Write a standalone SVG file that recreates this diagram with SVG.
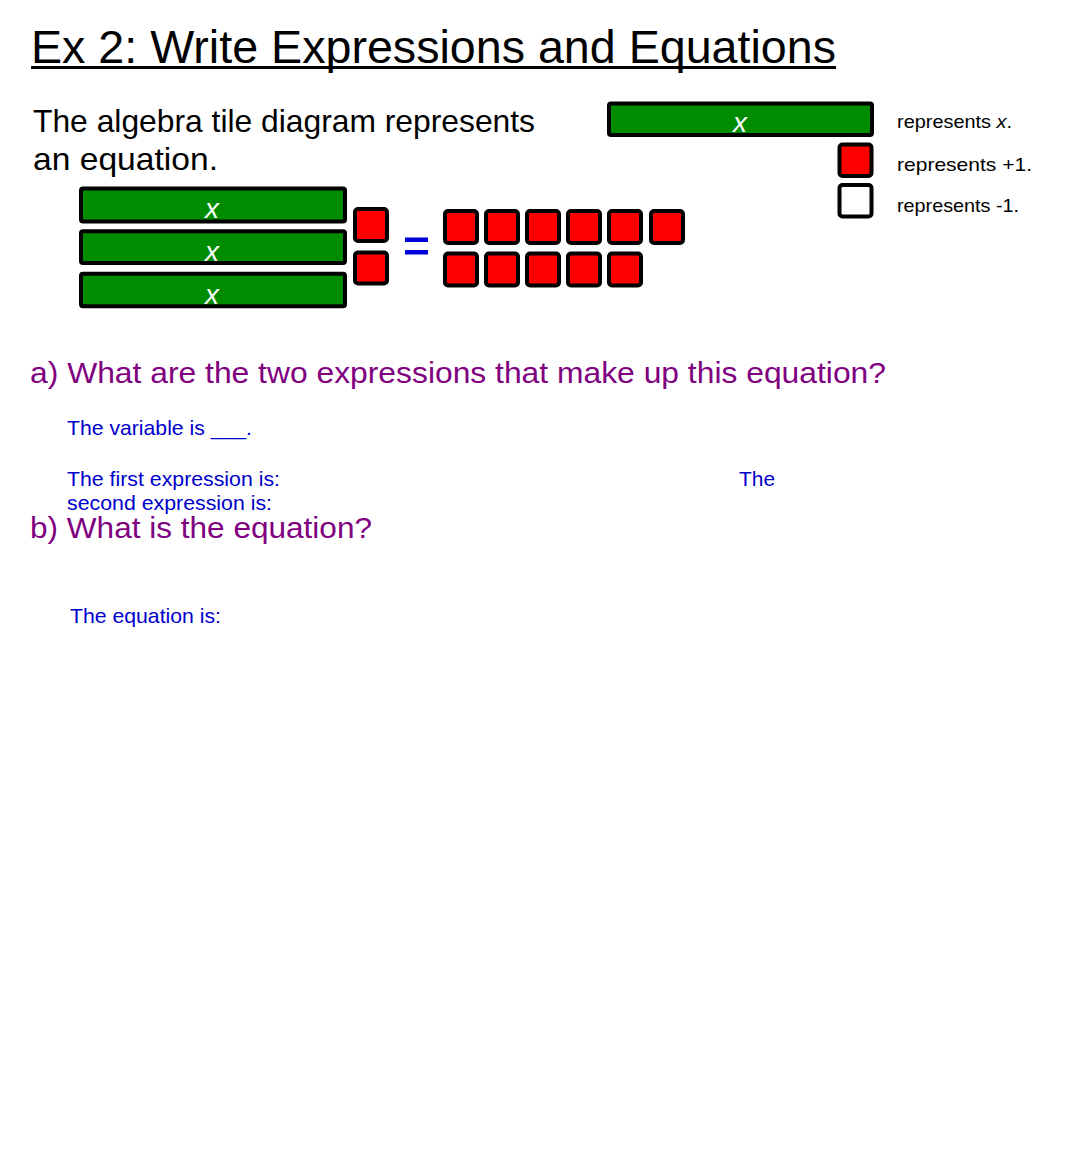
<svg xmlns="http://www.w3.org/2000/svg" width="1066" height="1149" viewBox="0 0 1066 1149">
<style>
text{font-family:"Liberation Sans",Arial,sans-serif}
.bar{fill:#008c00;stroke:#000;stroke-width:4}
.pos{fill:#ff0000;stroke:#000;stroke-width:4}
.neg{fill:#ffffff;stroke:#000;stroke-width:4}
.xl{fill:#fff;font-style:italic;font-size:28px;text-anchor:middle}
.leg{fill:#000;font-size:19px}
.q{fill:#800080;font-size:30px}
.b{fill:#0000cc;font-size:21px}
</style>
<rect width="1066" height="1149" fill="#fff"/>
<g id="title">
<text x="31" y="63" font-size="46" fill="#000" textLength="805" lengthAdjust="spacingAndGlyphs">Ex 2: Write Expressions and Equations</text>
<rect x="31" y="66" width="805" height="3" fill="#000"/>
</g>
<g id="intro">
<text x="33" y="132" font-size="32" fill="#000" textLength="502" lengthAdjust="spacingAndGlyphs">The algebra tile diagram represents</text>
<text x="33" y="170" font-size="32" fill="#000" textLength="185" lengthAdjust="spacingAndGlyphs">an equation.</text>
</g>
<g id="legend-x">
<rect class="bar" x="609" y="103.5" width="263" height="31.5" rx="2"/>
<text class="xl" x="740" y="132">x</text>
<text class="leg" x="897" y="128" textLength="115" lengthAdjust="spacingAndGlyphs">represents <tspan font-style="italic">x</tspan>.</text>
</g>
<g id="legend-pos">
<rect class="pos" x="839.5" y="144.5" width="32" height="31.5" rx="3"/>
<text class="leg" x="897" y="171" textLength="135" lengthAdjust="spacingAndGlyphs">represents +1.</text>
</g>
<g id="legend-neg">
<rect class="neg" x="839.5" y="185" width="32" height="31.5" rx="3"/>
<text class="leg" x="897" y="212" textLength="122" lengthAdjust="spacingAndGlyphs">represents -1.</text>
</g>
<g id="left-side">
<g id="x1"><rect class="bar" x="81" y="188.5" width="264" height="33" rx="2"/><text class="xl" x="212" y="218">x</text></g>
<g id="x2"><rect class="bar" x="81" y="231.3" width="264" height="31.7" rx="2"/><text class="xl" x="212" y="261">x</text></g>
<g id="x3"><rect class="bar" x="81" y="273.7" width="264" height="32.6" rx="2"/><text class="xl" x="212" y="304">x</text></g>
<g id="u1"><rect class="pos" x="355" y="209" width="32" height="32" rx="3"/></g>
<g id="u2"><rect class="pos" x="355" y="252.5" width="32" height="31" rx="3"/></g>
</g>
<g id="equals">
<rect x="405" y="237.5" width="23" height="4.5" fill="#0000dd"/>
<rect x="405" y="250" width="23" height="4.5" fill="#0000dd"/>
</g>
<g id="right-side">
<rect class="pos" x="445" y="211" width="32" height="32" rx="3"/>
<rect class="pos" x="486" y="211" width="32" height="32" rx="3"/>
<rect class="pos" x="527" y="211" width="32" height="32" rx="3"/>
<rect class="pos" x="568" y="211" width="32" height="32" rx="3"/>
<rect class="pos" x="609" y="211" width="32" height="32" rx="3"/>
<rect class="pos" x="651" y="211" width="32" height="32" rx="3"/>
<rect class="pos" x="445" y="253.5" width="32" height="32" rx="3"/>
<rect class="pos" x="486" y="253.5" width="32" height="32" rx="3"/>
<rect class="pos" x="527" y="253.5" width="32" height="32" rx="3"/>
<rect class="pos" x="568" y="253.5" width="32" height="32" rx="3"/>
<rect class="pos" x="609" y="253.5" width="32" height="32" rx="3"/>
</g>
<g id="question-a">
<text class="q" x="30" y="383" textLength="856" lengthAdjust="spacingAndGlyphs">a) What are the two expressions  that make up this equation?</text>
<text class="b" x="67" y="435" textLength="185" lengthAdjust="spacingAndGlyphs">The variable is ___.</text>
<text class="b" x="67" y="486" textLength="213" lengthAdjust="spacingAndGlyphs">The first expression is:</text>
<text class="b" x="739" y="486" textLength="36" lengthAdjust="spacingAndGlyphs">The</text>
<text class="b" x="67" y="510" textLength="205" lengthAdjust="spacingAndGlyphs">second expression is:</text>
</g>
<g id="question-b">
<text class="q" x="30" y="538" textLength="342" lengthAdjust="spacingAndGlyphs">b) What is the equation?</text>
<text class="b" x="70" y="623" textLength="151" lengthAdjust="spacingAndGlyphs">The equation is:</text>
</g>
</svg>
